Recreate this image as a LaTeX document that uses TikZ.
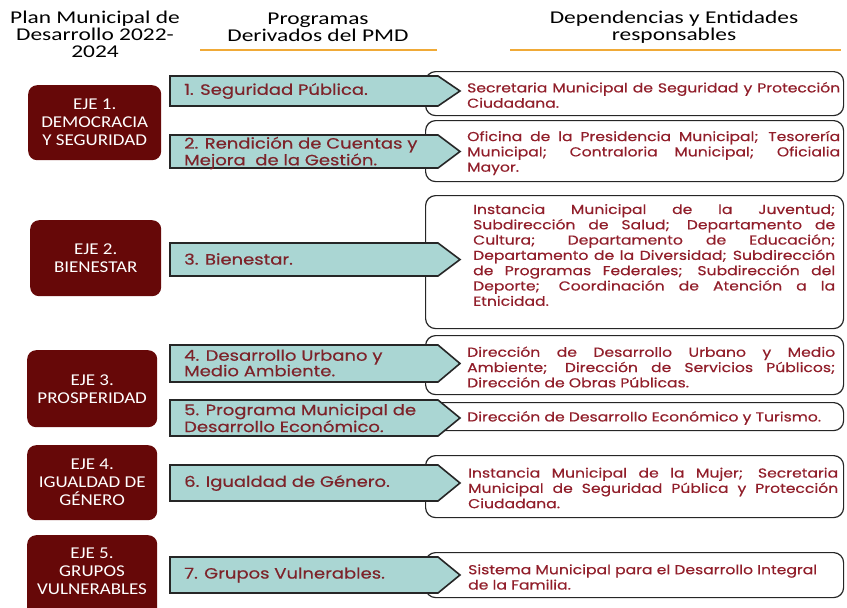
\documentclass[tikz,border=0pt]{standalone}
\usepackage{fontspec}
\setmainfont{Carlito}
\newfontfamily\hdrfont[FakeStretch=1.3]{Carlito}
\newfontfamily\ejefont[FakeStretch=1.15]{Carlito}
\newfontfamily\gothic[FakeStretch=1.2,FakeBold=0.4]{Poppins}
\newfontfamily\gothicp[FakeStretch=1.2,FakeBold=0.4]{Poppins}
\definecolor{ejered}{RGB}{102,8,8}
\definecolor{progfill}{RGB}{170,214,211}
\definecolor{txtred}{RGB}{145,30,42}
\definecolor{progred}{RGB}{125,35,42}
\definecolor{hdrline}{RGB}{240,170,55}
\newcommand{\jl}[2]{\makebox[#1pt][s]{#2}}
\begin{document}
\begin{tikzpicture}[x=1pt,y=-1pt,
  hdr/.style={font=\hdrfont\fontsize{18}{17}\selectfont, align=center, inner sep=0pt},
  hline/.style={draw=hdrline, line width=2pt},
  eje/.style={fill=ejered, rounded corners=9pt, anchor=north west, inner sep=0pt,
    text=white, font=\ejefont\fontsize{16.5}{18}\selectfont, align=center},
  resp/.style={draw=black!85, line width=1.2pt, fill=white, rounded corners=10pt,
    anchor=north west, inner sep=0pt},
  prog/.style={draw=black!85, line width=1.6pt, fill=progfill, line join=miter},
  progtext/.style={text=progred, font=\gothicp\fontsize{15}{15.5}\selectfont,
    anchor=west, align=left, inner sep=0pt},
  resptext/.style={text=txtred, font=\gothic\fontsize{13}{15.3}\selectfont,
    anchor=west, align=left, inner sep=0pt}]
\useasboundingbox (0,0) rectangle (847,608);
\clip (0,0) rectangle (847,608);
% headers
\node[hdr] (h1) at (95,34) {Plan Municipal de\\Desarrollo 2022-\\2024};
\node[hdr] (h2) at (318,27) {Programas\\Derivados del PMD};
\node[hdr] (h3) at (674,27) {Dependencias y Entidades\\responsables};
\coordinate (l2a) at (200,50); \coordinate (l2b) at (437,50);
\coordinate (l3a) at (510,50); \coordinate (l3b) at (841,50);
\draw[hline] (l2a) -- (l2b);
\draw[hline] (l3a) -- (l3b);
% ejes
\node[eje, minimum width=133pt, minimum height=75pt] (e1) at (28,85) {EJE 1.\\DEMOCRACIA\\Y SEGURIDAD};
\node[eje, minimum width=131pt, minimum height=76pt] (e2) at (30,220) {EJE 2.\\BIENESTAR};
\node[eje, minimum width=130pt, minimum height=77pt] (e3) at (27,350) {EJE 3.\\PROSPERIDAD};
\node[eje, minimum width=130pt, minimum height=75pt] (e4) at (27,445) {EJE 4.\\IGUALDAD DE\\GÉNERO};
\node[eje, minimum width=130pt, minimum height=82pt, text depth=0pt] (e5) at (27,535) {};
\node[text=white, font=\ejefont\fontsize{16.5}{18}\selectfont, align=center] (e5t) at (92,571) {EJE 5.\\GRUPOS\\VULNERABLES};
% response boxes
\node[resp, minimum width=418pt, minimum height=44pt] (r1) at (425,71) {};
\node[resp, minimum width=418pt, minimum height=61pt] (r2) at (425,120) {};
\node[resp, minimum width=418pt, minimum height=133pt] (r3) at (425,195) {};
\node[resp, minimum width=418pt, minimum height=59pt] (r4) at (425,335) {};
\node[resp, minimum width=413pt, minimum height=28pt] (r5) at (430,402) {};
\node[resp, minimum width=418pt, minimum height=62pt] (r6) at (425,455) {};
\node[resp, minimum width=418pt, minimum height=45pt] (r7) at (425,552) {};
% program arrows
\draw[prog] (170,76) -- (438,76) -- (460,91) -- (438,106) -- (170,106) -- cycle;
\draw[prog] (170,135) -- (438,135) -- (460,151.5) -- (438,168) -- (170,168) -- cycle;
\draw[prog] (170,243) -- (438,243) -- (460,259.5) -- (438,276) -- (170,276) -- cycle;
\draw[prog] (170,345) -- (438,345) -- (460,363.5) -- (438,382) -- (170,382) -- cycle;
\draw[prog] (170,400) -- (438,400) -- (460,418) -- (438,436) -- (170,436) -- cycle;
\draw[prog] (170,465) -- (438,465) -- (460,483) -- (438,501) -- (170,501) -- cycle;
\draw[prog] (170,557) -- (438,557) -- (460,575) -- (438,593) -- (170,593) -- cycle;
\node[progtext] (p1) at (184,91) {1. Seguridad Pública.};
\node[progtext] (p2) at (184,153) {2. Rendición de Cuentas y\\Mejora~ de la Gestión.};
\node[progtext] (p3) at (184,259) {3. Bienestar.};
\node[progtext] (p4) at (184,363) {4. Desarrollo Urbano y\\Medio Ambiente.};
\node[progtext] (p5) at (184,418) {5. Programa Municipal de\\Desarrollo Económico.};
\node[progtext] (p6) at (184,483) {6. Igualdad de Género.};
\node[progtext] (p7) at (184,575) {7. Grupos Vulnerables.};
% response texts
\node[resptext] (t1) at (467,95) {\jl{373}{Secretaria Municipal de Seguridad y Protección}\\Ciudadana.};
\node[resptext] (t2) at (467,153) {\jl{373}{Oficina de la Presidencia Municipal; Tesorería}\\\jl{373}{Municipal; Contraloria Municipal; Oficialia}\\Mayor.};
\node[resptext] (t3) at (473,255) {\jl{362}{Instancia Municipal de la Juventud;}\\\jl{362}{Subdirección de Salud; Departamento de}\\\jl{362}{Cultura; Departamento de Educación;}\\\jl{362}{Departamento de la Diversidad; Subdirección}\\\jl{362}{de Programas Federales; Subdirección del}\\\jl{362}{Deporte; Coordinación de Atención a la}\\Etnicidad.};
\node[resptext] (t4) at (467,367) {\jl{368}{Dirección de Desarrollo Urbano y Medio}\\\jl{368}{Ambiente; Dirección de Servicios Públicos;}\\Dirección de Obras Públicas.};
\node[resptext] (t5) at (467,418) {Dirección de Desarrollo Económico y Turismo.};
\node[resptext] (t6) at (468,488) {\jl{370}{Instancia Municipal de la Mujer; Secretaria}\\\jl{370}{Municipal de Seguridad Pública y Protección}\\Ciudadana.};
\node[resptext] (t7) at (468,577) {Sistema Municipal para el Desarrollo Integral\\de la Familia.};
\end{tikzpicture}
\end{document}
